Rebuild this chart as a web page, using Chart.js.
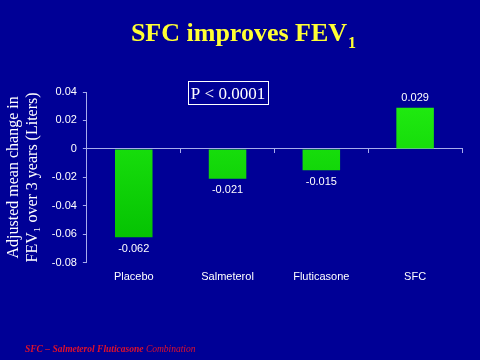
<!DOCTYPE html>
<html>
<head>
<meta charset="utf-8">
<script src="https://cdn.jsdelivr.net/npm/chart.js@4/dist/chart.umd.min.js"></script>
<style>
  html, body { margin: 0; padding: 0; background: #000096; }
  #wrap { width: 480px; height: 360px; }
</style>
</head>
<body>
<div id="wrap"><canvas id="myChart" width="480" height="360"></canvas></div>
<script>
const categories = ['Placebo', 'Salmeterol', 'Fluticasone', 'SFC'];
const fevChange = [-0.062, -0.021, -0.015, 0.029];
const yTicks = [0.04, 0.02, 0, -0.02, -0.04, -0.06, -0.08];

const bg = '#000096';
const axisColor = '#a8acec';

const slideText = {
    id: 'slideText',
    beforeDraw(chart) {
        const c = chart.ctx;
        c.save();
        c.fillStyle = bg;
        c.fillRect(0, 0, chart.width, chart.height);
        c.restore();
    },
    afterDraw(chart) {
        const c = chart.ctx;
        c.save();
        // title
        c.fillStyle = '#ffff33';
        c.font = 'bold 26px "Liberation Serif", serif';
        c.textBaseline = 'alphabetic';
        const t = 'SFC improves FEV';
        const w = c.measureText(t).width;
        const x0 = 244 - (w + 10) / 2;
        c.textAlign = 'left';
        c.fillText(t, x0, 41);
        c.font = 'bold 16px "Liberation Serif", serif';
        c.fillText('1', x0 + w + 1, 48);

        // p-value box
        c.strokeStyle = '#ffffff';
        c.lineWidth = 1;
        c.strokeRect(188.5, 81.5, 80, 23);
        c.fillStyle = '#ffffff';
        c.font = '17px "Liberation Serif", serif';
        c.textAlign = 'center';
        c.fillText('P < 0.0001', 228, 99);

        // bar value labels
        const meta = chart.getDatasetMeta(0);
        c.font = '11px "Liberation Sans", Arial, sans-serif';
        meta.data.forEach((bar, i) => {
            const v = fevChange[i];
            if (v < 0) {
                c.textBaseline = 'top';
                c.fillText(String(v), bar.x, bar.y + 6);
            } else {
                c.textBaseline = 'bottom';
                c.fillText(String(v), bar.x, bar.y - 4);
            }
        });

        // footnote
        c.textBaseline = 'alphabetic';
        c.textAlign = 'left';
        c.fillStyle = '#e0102a';
        c.font = 'italic bold 9.5px "Liberation Serif", serif';
        const f1 = 'SFC \u2013 Salmeterol Fluticasone ';
        c.fillText(f1, 25, 352);
        const fw = c.measureText(f1).width;
        c.font = 'italic 9.5px "Liberation Serif", serif';
        c.fillText('Combination', 25 + fw, 352);
        c.restore();
    }
};

new Chart(document.getElementById('myChart'), {
    type: 'bar',
    data: {
        labels: categories,
        datasets: [{
            data: fevChange,
            backgroundColor: (ctx) => {
                const area = ctx.chart.chartArea;
                if (!area) return '#11cc11';
                const g = ctx.chart.ctx.createLinearGradient(0, area.top, 0, area.bottom);
                g.addColorStop(0, '#22ee11');
                g.addColorStop(1, '#00bb00');
                return g;
            },
            borderWidth: 0,
            categoryPercentage: 1,
            barPercentage: 0.4,
        }]
    },
    options: {
        responsive: false,
        animation: false,
        layout: { padding: { top: 92, left: 3, right: 18, bottom: 68 } },
        plugins: {
            legend: { display: false },
            tooltip: { enabled: false },
        },
        scales: {
            x: {
                grid: { display: false, drawTicks: false },
                border: { display: false },
                ticks: {
                    color: '#ffffff',
                    padding: 8,
                    font: { family: '"Liberation Sans", Arial, sans-serif', size: 11 },
                },
            },
            x2: {
                type: 'category',
                labels: categories,
                position: { y: 0 },
                grid: { drawOnChartArea: false, color: axisColor, tickLength: 4, offset: true },
                border: { color: axisColor },
                ticks: { display: false },
            },
            y: {
                min: -0.08,
                max: 0.04,
                afterBuildTicks: (axis) => { axis.ticks = yTicks.map(v => ({ value: v })); },
                grid: { drawOnChartArea: false, color: axisColor, tickLength: 4 },
                border: { color: axisColor },
                ticks: {
                    color: '#ffffff',
                    padding: 6,
                    font: { family: '"Liberation Sans", Arial, sans-serif', size: 11 },
                    callback: (v) => String(Math.round(v * 100) / 100),
                },
                title: {
                    display: true,
                    text: ['Adjusted mean change in', 'FEV\u2081 over 3 years (Liters)'],
                    color: '#ffffff',
                    font: { family: '"Liberation Serif", serif', size: 16, lineHeight: 1.15 },
                    padding: { top: 2, bottom: 4 },
                },
            },
        },
    },
    plugins: [slideText],
});
</script>
</body>
</html>
